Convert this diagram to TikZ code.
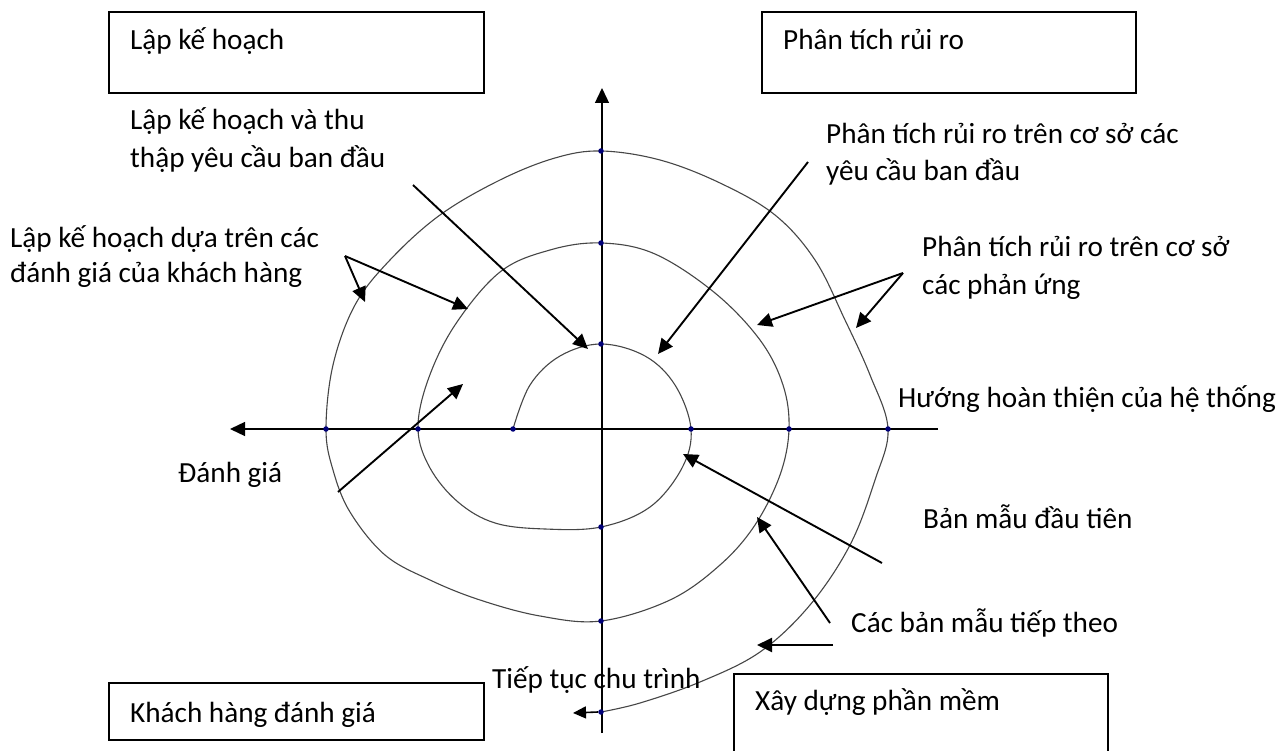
\documentclass[tikz,border=0pt]{standalone}
\usepackage{fontspec}
\setmainfont{Carlito}
\usetikzlibrary{arrows.meta}
\definecolor{curvecol}{RGB}{70,70,70}
\definecolor{dotcol}{RGB}{0,0,120}
\tikzset{
  lbl/.style={anchor=base west,inner sep=0pt,font=\fontsize{29.2}{35}\selectfont},
  box/.style={draw=black,line width=1.5pt},
  ptr/.style={line width=1.9pt,-{Triangle[length=15pt,width=14pt]}},
  axis/.style={line width=1.3pt},
  spiral/.style={draw=curvecol,line width=1.1pt},
  dot/.style={circle,fill=dotcol,inner sep=0pt,minimum size=5.5pt}
}
\begin{document}
\begin{tikzpicture}[x=1pt,y=-1pt]
\useasboundingbox (0,0) rectangle (1286,751);
\fill[white] (0,0) rectangle (1286,751);
% boxes
\draw[box] (109,12) rectangle (484,93);
\draw[box] (762,12) rectangle (1136,93);
\draw[box] (109,683) rectangle (484,740);
\draw[box] (734,770) -- (734,674) -- (1108,674) -- (1108,770);
\node[lbl] (bplan) at (130,50) {Lập kế hoạch};
\node[lbl] (brisk) at (783,50) {Phân tích rủi ro};
\node[lbl] (bcust) at (130,722) {Khách hàng đánh giá};
\node[lbl] (bbuild) at (755,710) {Xây dựng phần mềm};
% axes
\coordinate (vbot) at (602,733);
\coordinate (vtop) at (602,88);
\coordinate (hright) at (938,429);
\coordinate (hleft) at (230,429);
\draw[axis] (vbot) -- (602,110);
\draw[axis,-{Triangle[length=15pt,width=14pt]}] (602,115) -- (vtop);
\draw[axis] (hright) -- (250,429);
\draw[axis,-{Triangle[length=15pt,width=14pt]}] (255,429) -- (hleft);
% spiral
\draw[spiral] plot[smooth,tension=0.6] coordinates {
(513,429) (530,385) (560,356) (601,344) (645,356) (675,385) (691,429)
(682,468) (650,507) (601,527) (545,529) (495,523) (458,502) (430,468) (418,429)
(428,380) (455,325) (500,272) (550,250) (601,243) (655,254) (715,293) (760,340)
(783,385) (789,429) (780,475) (755,525) (720,565) (670,600) (601,621)
(540,616) (480,600) (430,580) (385,555) (350,512) (333,470) (326,429)
(333,365) (355,305) (390,260) (440,215) (500,180) (555,158) (601,151)
(660,160) (720,183) (775,215) (815,260) (845,320) (870,375) (888,429)
(875,480) (850,545) (810,605) (760,652) (700,682) (640,703) (601,712)};
% dots
\foreach \p/\n in {{601,151}/d1,{601,243}/d2,{601,344}/d3,{601,527}/d4,{601,621}/d5,{601,712}/d6,{326,429}/d7,{418,429}/d8,{513,429}/d9,{691,429}/d10,{789,429}/d11,{888,429}/d12}
  \node[dot] (\n) at (\p) {};
% end arrow
\coordinate (endtip) at (573,713);
\draw[line width=1.6pt,-{Triangle[length=13pt,width=12pt]}] (d6.west) -- (endtip);
% labels
\node[lbl] (l1a) at (130,130) {Lập kế hoạch và thu};
\node[lbl] (l1b) at (130,168) {thập yêu cầu ban đầu};
\node[lbl] (l2a) at (10,248) {Lập kế hoạch dựa trên các};
\node[lbl] (l2b) at (10,283) {đánh giá của khách hàng};
\node[lbl] (l3a) at (826,144) {Phân tích rủi ro trên cơ sở các};
\node[lbl] (l3b) at (826,181) {yêu cầu ban đầu};
\node[lbl] (l4a) at (922,257) {Phân tích rủi ro trên cơ sở};
\node[lbl] (l4b) at (922,295) {các phản ứng};
\node[lbl] (l5) at (898,408) {Hướng hoàn thiện của hệ thống};
\node[lbl] (l6) at (178,482) {Đánh giá};
\node[lbl] (l7) at (923,528) {Bản mẫu đầu tiên};
\node[lbl] (l8) at (851,632) {Các bản mẫu tiếp theo};
\node[lbl] (l9) at (492,688) {Tiếp tục chu trình};
% pointer arrows
\coordinate (s1) at (413,185); \coordinate (t1) at (588,349);
\coordinate (s2) at (808,162); \coordinate (t2) at (658,354);
\coordinate (s3) at (345,256); \coordinate (t3a) at (365,302); \coordinate (t3b) at (468,309);
\coordinate (s4) at (903,273); \coordinate (t4a) at (757,325); \coordinate (t4b) at (856,328);
\coordinate (s5) at (338,492); \coordinate (t5) at (463,384);
\coordinate (s6) at (882,563); \coordinate (t6) at (683,454);
\coordinate (s7) at (830,623); \coordinate (t7) at (757,517);
\coordinate (s8) at (833,645); \coordinate (t8) at (757,645);
\draw[ptr] (s1) -- (t1);
\draw[ptr] (s2) -- (t2);
\draw[ptr] (s3) -- (t3a);
\draw[ptr] (s3) -- (t3b);
\draw[ptr] (s4) -- (t4a);
\draw[ptr] (s4) -- (t4b);
\draw[ptr] (s5) -- (t5);
\draw[ptr] (s6) -- (t6);
\draw[ptr] (s7) -- (t7);
\draw[ptr] (s8) -- (t8);
\end{tikzpicture}
\end{document}
